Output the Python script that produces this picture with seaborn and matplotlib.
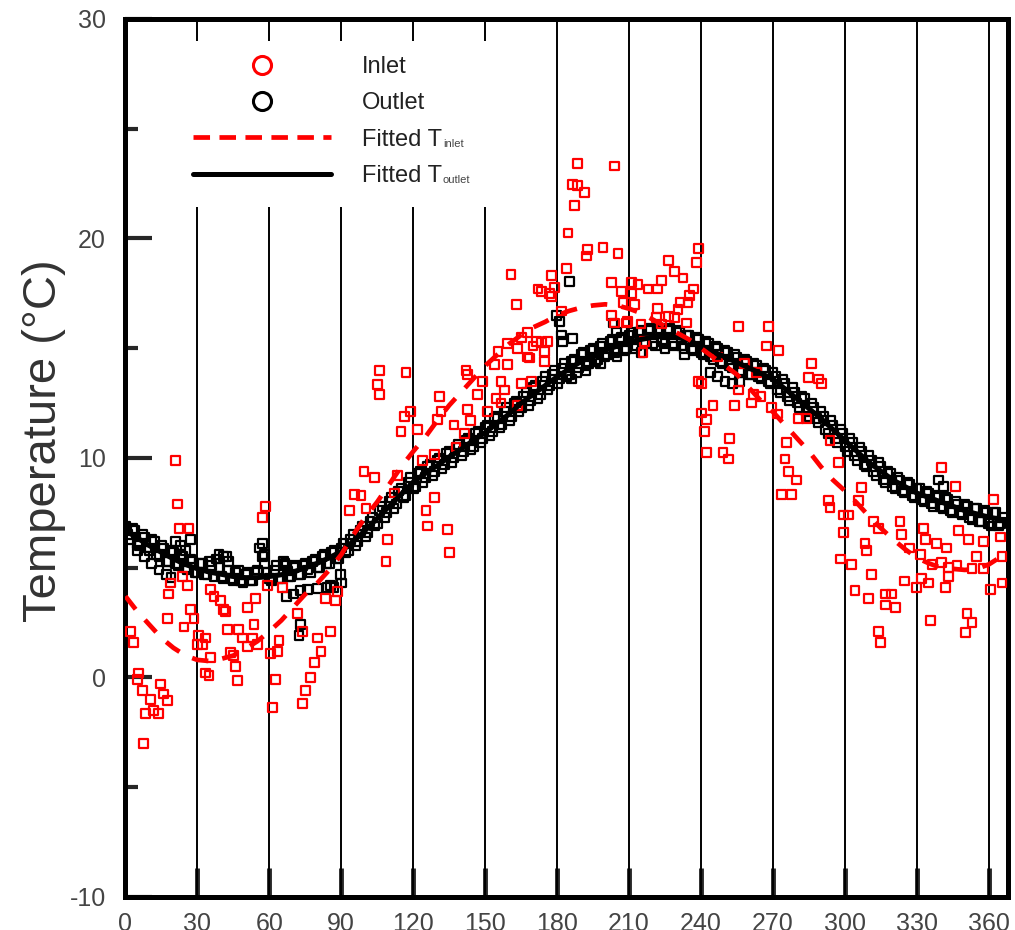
import matplotlib
matplotlib.use("Agg")
import matplotlib.pyplot as plt
from matplotlib.lines import Line2D
import seaborn as sns
import pandas as pd

# ---------------- data ----------------
inlet_day = [2.0, 3.5, 4.9, 5.6, 7.0, 7.6, 8.4, 10.4, 11.8, 13.9,
             14.6, 16.0, 17.4, 17.4, 18.0, 18.8, 20.9, 21.6, 22.3, 23.7,
             24.4, 25.8, 26.5, 27.0, 28.6, 29.9, 30.6, 32.0, 33.4, 33.4,
             34.8, 35.5, 35.5, 36.9, 39.7, 41.0, 41.8, 42.5, 43.9, 45.2,
             45.9, 46.6, 47.3, 48.7, 50.8, 50.8, 52.9, 53.6, 54.3, 55.0,
             57.1, 58.5, 59.2, 60.6, 61.3, 62.7, 63.4, 64.0, 65.5, 71.7,
             73.8, 73.8, 75.2, 77.3, 78.7, 80.0, 81.5, 83.5, 85.6, 87.7,
             88.4, 93.3, 95.4, 98.2, 99.5, 100.3, 103.7, 105.1, 105.8, 105.8,
             108.6, 109.3, 112.1, 113.5, 114.9, 116.2, 117.0, 119.0, 121.8, 124.0,
             125.3, 126.0, 128.8, 128.8, 130.2, 130.9, 131.6, 134.4, 135.0, 137.0,
             137.8, 141.3, 142.0, 142.7, 142.7, 144.0, 146.9, 149.0, 151.0, 153.8,
             154.5, 155.3, 156.6, 156.6, 158.0, 159.4, 159.4, 160.8, 162.9, 163.6,
             163.6, 165.0, 165.0, 167.8, 167.8, 168.5, 169.2, 169.9, 171.3, 172.0,
             173.4, 173.4, 174.7, 174.7, 176.0, 176.8, 177.5, 177.5, 178.9, 181.7,
             183.8, 184.5, 186.5, 187.3, 188.6, 188.6, 191.4, 192.2, 192.8, 199.1,
             202.6, 202.6, 203.9, 204.0, 205.4, 206.8, 207.5, 208.9, 209.5, 211.0,
             211.0, 212.3, 213.7, 215.0, 215.8, 216.5, 217.9, 221.4, 222.0, 222.0,
             223.5, 223.5, 226.3, 226.3, 229.0, 229.0, 230.4, 231.2, 232.5, 233.9,
             234.6, 235.3, 236.7, 238.1, 238.8, 238.8, 240.2, 240.2, 241.6, 242.3,
             242.3, 245.0, 247.0, 249.2, 251.3, 252.0, 254.0, 255.5, 255.5, 258.0,
             261.0, 261.8, 263.0, 265.0, 267.3, 268.0, 269.4, 272.0, 272.2, 273.6,
             275.0, 275.7, 276.4, 277.8, 279.9, 280.6, 284.0, 284.7, 286.0, 288.9,
             290.3, 293.0, 293.8, 293.8, 297.3, 298.0, 299.4, 299.4, 301.4, 302.8,
             304.2, 305.6, 307.0, 308.4, 309.1, 309.8, 311.2, 311.9, 314.0, 314.0,
             314.7, 316.8, 316.8, 319.5, 321.0, 323.0, 323.7, 325.0, 327.0, 330.0,
             331.4, 332.0, 332.8, 333.5, 334.9, 335.6, 336.3, 338.3, 340.4, 340.4,
             341.8, 342.5, 343.2, 343.2, 346.0, 346.7, 347.4, 350.2, 350.9, 351.6,
             353.0, 353.0, 355.0, 357.8, 357.8, 360.6, 362.0, 364.8, 365.5, 365.5]
inlet_temp = [2.1, 1.6, -0.1, 0.2, -0.6, -3.0, -1.65, -1.0, -1.5, -1.65,
              -0.3, -0.75, -1.05, 2.7, 3.8, 4.3, 9.9, 7.9, 6.8, 4.6,
              2.3, 4.2, 6.8, 3.1, 2.7, 1.5, 1.9, 1.5, 1.8, 0.2,
              0.1, 0.9, 4.0, 3.7, 3.5, 3.1, 3.0, 2.2, 1.15, 1.0,
              0.5, -0.15, 2.2, 1.8, 3.2, 1.4, 1.8, 2.4, 3.6, 1.5,
              7.3, 7.8, 4.2, 1.1, -1.35, -0.1, 1.2, 1.7, 4.1, 2.9,
              2.1, -1.2, -0.6, 0.0, 0.7, 1.8, 1.2, 3.6, 2.1, 3.5,
              3.9, 7.6, 8.35, 8.3, 9.4, 7.7, 9.1, 13.35, 14.0, 12.9,
              5.3, 6.3, 8.4, 9.2, 11.2, 11.9, 13.9, 12.1, 11.3, 9.9,
              7.6, 6.9, 10.15, 8.2, 11.75, 12.8, 12.1, 6.75, 5.7, 11.5,
              10.5, 11.1, 14.0, 13.8, 12.2, 11.7, 12.9, 13.5, 12.1, 14.25,
              12.7, 14.85, 12.5, 13.5, 13.1, 15.2, 14.25, 18.35, 17.0, 15.0,
              12.4, 13.4, 15.5, 14.6, 15.7, 14.55, 13.5, 15.1, 15.3, 17.7,
              15.25, 17.6, 14.85, 14.4, 15.3, 17.5, 18.3, 17.35, 17.75, 16.7,
              18.65, 20.25, 22.45, 21.5, 22.4, 23.4, 22.1, 19.2, 19.5, 19.6,
              18.0, 16.5, 23.3, 16.15, 19.3, 17.6, 17.1, 16.15, 16.2, 18.0,
              17.5, 17.0, 17.9, 16.1, 14.8, 15.3, 17.7, 16.4, 16.8, 17.7,
              16.1, 18.1, 19.0, 16.45, 18.5, 16.4, 16.75, 17.1, 18.2, 16.15,
              17.1, 17.4, 17.7, 18.9, 19.55, 13.5, 13.4, 12.05, 11.2, 11.75,
              10.25, 12.4, 14.6, 10.25, 9.95, 10.9, 12.4, 16.0, 13.1, 14.3,
              12.5, 12.9, 13.9, 12.8, 15.1, 16.0, 12.3, 12.0, 14.9, 8.35,
              9.95, 10.7, 9.4, 8.35, 9.0, 11.8, 11.8, 13.65, 14.3, 13.6,
              13.4, 8.05, 7.75, 10.8, 9.8, 5.4, 7.4, 6.6, 7.4, 5.15,
              3.95, 8.05, 8.65, 6.1, 5.8, 3.6, 4.7, 7.1, 6.8, 2.1,
              1.6, 3.8, 3.3, 3.8, 3.2, 7.1, 6.5, 4.4, 5.9, 4.1,
              5.6, 4.5, 6.8, 6.3, 4.3, 2.6, 5.15, 6.1, 5.25, 9.55,
              4.1, 5.9, 5.0, 4.6, 8.7, 5.1, 6.7, 2.05, 2.9, 6.3,
              4.95, 2.5, 5.5, 6.2, 4.95, 4.0, 8.1, 6.4, 5.5, 4.3]

outlet_day_even = list(range(0, 367, 2))
outlet_temp_even = [6.9, 6.3, 6.7, 6.0, 6.4, 5.8, 6.2, 5.5, 5.9, 5.3,
                    5.7, 5.1, 5.5, 4.9, 5.3, 4.8, 5.2, 4.7, 5.1, 5.4,
                    4.6, 5.5, 4.5, 4.8, 4.4, 4.7, 4.4, 4.8, 5.9, 5.2,
                    4.5, 4.9, 4.5, 5.3, 4.6, 5.0, 4.7, 5.1, 4.9, 5.3,
                    5.0, 5.5, 5.2, 5.7, 5.4, 5.9, 5.7, 6.3, 6.0, 6.7,
                    6.4, 7.1, 6.9, 7.6, 7.3, 8.0, 7.7, 8.5, 8.2, 8.9,
                    8.6, 9.3, 8.9, 9.6, 9.2, 9.9, 9.5, 10.2, 9.8, 10.5,
                    10.1, 10.8, 10.4, 11.1, 10.7, 11.4, 11.0, 11.8, 11.4, 12.1,
                    11.7, 12.5, 12.1, 12.8, 12.4, 13.2, 12.7, 13.5, 13.1, 13.8,
                    13.4, 14.1, 13.7, 14.4, 13.9, 14.7, 14.2, 14.9, 14.4, 15.1,
                    14.6, 15.3, 14.8, 15.4, 14.9, 15.6, 15.0, 15.7, 15.2, 15.8,
                    15.2, 15.8, 15.3, 15.8, 15.2, 15.8, 15.1, 15.6, 15.0, 15.5,
                    14.8, 15.3, 14.6, 15.1, 14.4, 14.9, 14.2, 14.7, 14.0, 14.5,
                    13.8, 14.3, 13.7, 14.1, 13.5, 13.9, 13.1, 13.6, 12.8, 13.2,
                    12.5, 12.8, 12.1, 12.5, 11.8, 12.1, 11.3, 11.7, 10.9, 11.3,
                    10.5, 10.9, 10.1, 10.5, 9.7, 10.1, 9.4, 9.8, 9.0, 9.4,
                    8.7, 9.1, 8.5, 8.9, 8.3, 8.6, 8.1, 8.5, 7.9, 8.3,
                    7.8, 8.2, 7.6, 8.0, 7.5, 7.9, 7.3, 7.7, 7.1, 7.6,
                    7.0, 7.5, 6.9, 7.3]
outlet_day_odd = list(range(1, 366, 2))
outlet_temp_odd = [6.5, 6.8, 6.1, 6.5, 5.9, 6.3, 5.6, 6.0, 5.3, 5.8,
                   5.2, 5.6, 5.0, 5.4, 4.8, 5.2, 4.7, 5.3, 4.6, 5.0,
                   4.5, 4.9, 4.4, 4.9, 4.3, 4.8, 4.4, 4.9, 5.5, 4.8,
                   4.4, 5.1, 4.5, 5.1, 4.6, 5.1, 4.7, 5.2, 4.8, 5.4,
                   5.0, 5.6, 5.2, 5.8, 5.4, 6.1, 5.8, 6.5, 6.2, 6.9,
                   6.6, 7.3, 7.0, 7.8, 7.5, 8.2, 7.9, 8.6, 8.3, 9.1,
                   8.7, 9.4, 9.1, 9.7, 9.4, 10.0, 9.7, 10.3, 10.0, 10.6,
                   10.3, 10.9, 10.5, 11.2, 10.9, 11.5, 11.2, 11.9, 11.5, 12.3,
                   11.9, 12.6, 12.3, 13.0, 12.6, 13.3, 12.9, 13.7, 13.3, 14.0,
                   13.6, 14.3, 13.8, 14.5, 14.1, 14.8, 14.3, 15.0, 14.5, 15.2,
                   14.7, 15.4, 14.9, 15.5, 15.0, 15.7, 15.1, 15.8, 15.2, 15.9,
                   15.1, 15.9, 15.2, 15.9, 15.1, 15.7, 15.0, 15.6, 14.9, 15.4,
                   14.7, 15.2, 14.5, 15.0, 14.3, 14.8, 14.1, 14.6, 13.9, 14.4,
                   13.8, 14.2, 13.6, 14.0, 13.4, 13.7, 13.0, 13.4, 12.6, 13.0,
                   12.3, 12.7, 11.9, 12.3, 11.6, 11.9, 11.1, 11.5, 10.7, 11.1,
                   10.3, 10.7, 9.9, 10.3, 9.6, 9.9, 9.2, 9.6, 8.9, 9.3,
                   8.6, 9.0, 8.4, 8.8, 8.2, 8.6, 8.0, 8.4, 7.8, 8.2,
                   7.7, 8.1, 7.5, 7.9, 7.4, 7.8, 7.2, 7.7, 7.1, 7.5,
                   6.9, 7.5, 7.0]
outlet_extra_day = [5, 8, 11, 14, 17, 19, 21, 23, 25, 27,
                    39, 41, 43, 57, 58, 66.5, 67.5, 67, 70, 73,
                    76, 80, 84, 87, 90, 72.4, 73, 85.6, 89.8, 179.6,
                    180.9, 181.7, 186.5, 182.3, 185.2, 203.3, 204.7, 244, 247, 250,
                    253, 256, 186, 192, 198, 205, 215, 225, 233, 339, 341]
outlet_extra_temp = [5.8, 5.5, 5.2, 4.9, 4.7, 4.55, 6.2, 6.0, 5.8, 6.3,
                     5.6, 5.5, 5.3, 6.1, 5.6, 5.2, 4.85, 3.7, 3.8, 3.95,
                     4.0, 4.05, 4.1, 4.1, 4.3, 1.9, 2.4, 4.2, 4.7, 16.5,
                     16.2, 15.6, 15.45, 15.3, 18.05, 16.15, 15.7, 13.9, 13.7, 13.5,
                     13.4, 13.5, 13.6, 14.0, 14.3, 14.6, 14.8, 15.0, 14.7, 9.0, 8.7]

fit_in_day = list(range(0, 366, 5))
fit_in_temp = [3.7, 3.0, 2.4, 1.8, 1.35, 1.0, 0.8, 0.75, 0.85, 1.0,
               1.3, 1.65, 2.1, 2.6, 3.2, 3.8, 4.3, 4.9, 5.6, 6.5,
               7.3, 8.0, 8.8, 9.6, 10.3, 10.95, 11.7, 12.4, 13.0, 13.6,
               14.2, 14.7, 15.2, 15.6, 15.95, 16.2, 16.5, 16.7, 16.85, 16.95,
               17.0, 16.95, 16.8, 16.6, 16.3, 16.0, 15.7, 15.4, 15.0, 14.6,
               14.2, 13.8, 13.2, 12.6, 12.1, 11.5, 10.9, 10.3, 9.6, 9.0,
               8.5, 7.95, 7.35, 6.8, 6.3, 5.85, 5.45, 5.2, 5.0, 4.95,
               4.9, 4.95, 5.15, 5.5]
fit_out_day = list(range(0, 366, 5)) + [367]
fit_out_temp = [6.7, 6.35, 6.0, 5.7, 5.4, 5.15, 4.95, 4.8, 4.7, 4.6,
                4.55, 4.55, 4.6, 4.68, 4.8, 5.0, 5.2, 5.45, 5.75, 6.2,
                6.7, 7.25, 7.8, 8.35, 8.9, 9.3, 9.65, 10.05, 10.4, 10.8,
                11.15, 11.6, 12.0, 12.5, 12.9, 13.3, 13.7, 14.05, 14.4, 14.65,
                14.9, 15.1, 15.3, 15.4, 15.5, 15.55, 15.5, 15.35, 15.1, 14.85,
                14.6, 14.35, 14.1, 13.85, 13.6, 13.15, 12.7, 12.25, 11.8, 11.3,
                10.8, 10.3, 9.8, 9.4, 9.0, 8.7, 8.4, 8.2, 8.0, 7.8,
                7.6, 7.45, 7.3, 7.2, 7.2]

xticks = [0, 30, 60, 90, 120, 150, 180, 210, 240, 270, 300, 330, 360]
yticks = [-10, 0, 10, 20, 30]
yminor = [-5, 5, 15, 25]
legend_labels = ["Inlet", "Outlet", "Fitted T", "Fitted T"]
legend_subs = ["inlet", "outlet"]

# ---------------- style ----------------
sns.set_style("ticks")
plt.rcParams['font.family'] = ['Liberation Sans', 'DejaVu Sans']
plt.rcParams['axes.unicode_minus'] = False

fig = plt.figure(figsize=(10.15, 9.3), dpi=100)
ax = fig.add_axes([0.1236, 0.0355, 0.8695, 0.9441])

inlet_df = pd.DataFrame({"day": inlet_day, "temp": inlet_temp})
outlet_df = pd.DataFrame({
    "day": outlet_day_even + outlet_day_odd + outlet_extra_day,
    "temp": outlet_temp_even + outlet_temp_odd + outlet_extra_temp})
fit_in_df = pd.DataFrame({"day": fit_in_day, "temp": fit_in_temp})
fit_out_df = pd.DataFrame({"day": fit_out_day, "temp": fit_out_temp})

# vertical guide lines
for xv in xticks[1:]:
    if xv <= 150:
        ax.vlines(xv, -10, 21.45, color="black", lw=1.4, zorder=1)
        ax.vlines(xv, 29.0, 30, color="black", lw=1.4, zorder=1)
    else:
        ax.vlines(xv, -10, 30, color="black", lw=1.4, zorder=1)

sns.scatterplot(data=outlet_df, x="day", y="temp", ax=ax, marker="s", s=40,
                facecolor="none", edgecolor="black", linewidth=1.6, zorder=3)
sns.scatterplot(data=inlet_df, x="day", y="temp", ax=ax, marker="s", s=40,
                facecolor="none", edgecolor="#ff0000", linewidth=1.6, zorder=4)
sns.lineplot(data=fit_out_df, x="day", y="temp", ax=ax, color="black",
             linewidth=3.6, zorder=5)
sns.lineplot(data=fit_in_df, x="day", y="temp", ax=ax, color="#ff0000",
             linewidth=3.4, zorder=6)
ax.lines[-1].set_dashes((3.5, 3.0))

ax.set_xlim(0, 368)
ax.set_ylim(-10, 30)
ax.set_xticks(xticks)
ax.set_yticks(yticks)
ax.set_yticks(yminor, minor=True)
ax.set_xlabel("")
ax.set_ylabel("Temperature (°C)", fontsize=34, color="#333333")
ax.yaxis.set_label_coords(-0.067, 0.52)

ax.tick_params(axis="x", which="major", direction="in", length=21, width=3.5,
               labelsize=18, pad=11, labelcolor="#444444", bottom=True, top=False)
ax.tick_params(axis="y", which="major", direction="in", length=19.5, width=3,
               labelsize=18, pad=14, labelcolor="#444444", left=True, right=False)
ax.tick_params(axis="y", which="minor", direction="in", length=9, width=3,
               left=True, right=False)
for s in ax.spines.values():
    s.set_linewidth(3.6)
    s.set_color("black")

handles = [
    Line2D([], [], marker="o", linestyle="none", markerfacecolor="none",
           markeredgecolor="#ff0000", markersize=13, markeredgewidth=2.2),
    Line2D([], [], marker="o", linestyle="none", markerfacecolor="none",
           markeredgecolor="black", markersize=13, markeredgewidth=2.2),
    Line2D([], [], color="#ff0000", lw=3.4, dashes=(3.5, 2.0)),
    Line2D([], [], color="black", lw=3.6),
]
leg = ax.legend(handles, legend_labels, loc="upper left",
                bbox_to_anchor=(0.0765, 0.958), frameon=False, fontsize=17,
                handlelength=5.85, handletextpad=1.3, labelspacing=0.61,
                borderpad=0, borderaxespad=0)
for t in leg.get_texts():
    t.set_color("#222222")

fig.canvas.draw()
W, H = fig.get_size_inches() * fig.dpi
for t, sub in zip(leg.get_texts()[2:], legend_subs):
    bb = t.get_window_extent()
    fig.text((bb.x1 + 1) / W, (bb.y0 + 2) / H, sub, fontsize=8,
             color="#444444", ha="left", va="bottom")

fig.savefig("out.png", dpi=100)
